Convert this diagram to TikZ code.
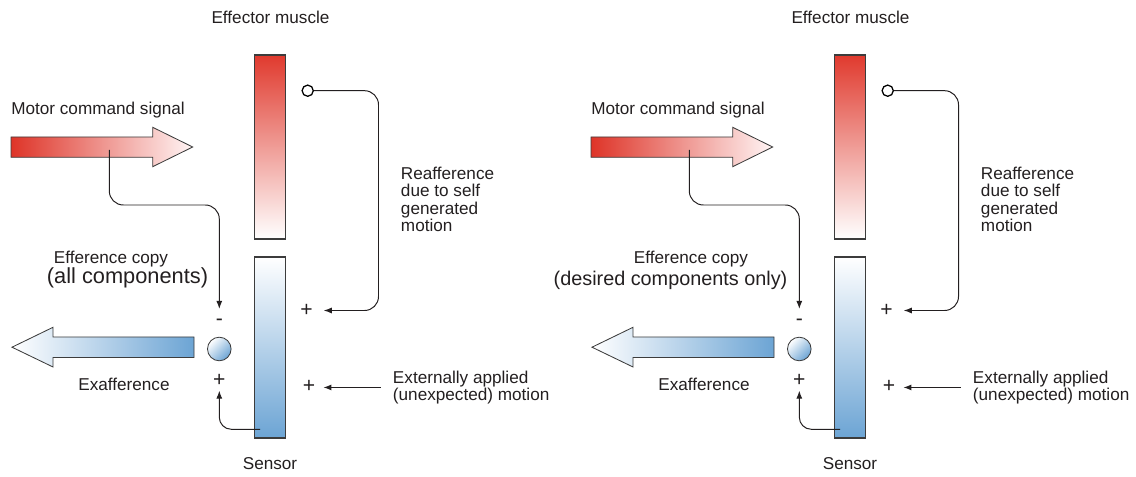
\documentclass[tikz,border=0pt]{standalone}
\usepackage{fontspec}
\setmainfont{Liberation Sans}
\usetikzlibrary{positioning, arrows.meta, calc}
\definecolor{musclered}{RGB}{224,58,46}
\definecolor{cmdred}{RGB}{222,52,40}
\definecolor{sensblue}{RGB}{108,164,212}
\definecolor{edgegray}{RGB}{60,60,60}
\definecolor{inkgray}{RGB}{35,31,32}

\begin{document}
\begin{tikzpicture}[x=0.025cm, y=-0.025cm,
			lbl/.style={font=\fontsize{12.2}{14}\selectfont, text=inkgray, inner sep=0pt},
			sgn/.style={font=\fontsize{15}{17}\selectfont, text=inkgray, inner sep=0pt},
			bar/.style={rectangle, draw=edgegray, line width=0.8pt, minimum width=0.775cm, minimum height=4.6cm, inner sep=0pt},
			bigarrow/.style={draw=edgegray, line width=0.6pt},
			link/.style={->, line width=0.7pt, draw=inkgray, rounded corners=0.35cm},
			>={Latex[length=0.2cm,width=0.15cm]}
			]
			\useasboundingbox (0,0) rectangle (1136,477);
			\foreach \p/\dx/\copytxt/\copysz/\copyx/\copyy in {L/0/{(all components)}/15.5/127.5/284, R/580/{(desired components only)}/14.1/90.5/285.5}{
			\begin{scope}[shift={(\dx,0)}]
			% muscle and sensor
			\node[bar, top color=musclered, bottom color=white] (muscle\p) at (269.8,147) {};
			\node[bar, minimum height=4.525cm, top color=white, bottom color=sensblue] (sensor\p) at (269.8,347.5) {};
			\node[lbl, anchor=base] (musclelbl\p) at (270.5,23.8) {Effector muscle};
			\node[lbl, anchor=base] (sensorlbl\p) at (270,470) {Sensor};
			
			% motor command
			\node[lbl, anchor=base west] (cmdlbl\p) at (11,115) {Motor command signal};
			\shadedraw[bigarrow, left color=cmdred, right color=red!4] (11,137) -- (152.7,137) -- (152.7,127.3) -- (192.7,147) -- (152.7,166.7) -- (152.7,157.3) -- (11,157.3) -- cycle;
			
			% exafference
			\shadedraw[bigarrow, left color=white, right color=sensblue] (194,337) -- (53,337) -- (53,327.3) -- (12,347.2) -- (53,367) -- (53,357.5) -- (194,357.5) -- cycle;
			\node[lbl, anchor=base] (exlbl\p) at (124,390.7) {Exafference};
			
			\node[circle, draw=edgegray, line width=0.6pt, minimum size=0.59cm, inner sep=0pt, top color=white, bottom color=sensblue, shading angle=45] (sum\p) at (219.3,349) {};
			\node[sgn] (minus\p) at (219.3,322.4) {-};
			\node[sgn] (plusex\p) at (219.3,380.3) {+};
			
			\node[lbl, anchor=base] (copylbl\p) at (111,263.5) {Efference copy};
			\node[lbl, font=\fontsize{\copysz}{16}\selectfont, anchor=base] (copysub\p) at (\copyx,\copyy) {\copytxt};
			\coordinate (tap\p) at (109.3,150);
			\draw[link, shorten >=0.25cm] (tap\p) -- (109.3,205) -| (minus\p.north);
			
			\coordinate (sensout\p) at (260,429.3);
			\draw[link, rounded corners=0.3cm, shorten >=0.1cm] (sensout\p) -| (plusex\p.south);
			
			% reafference
			\node[circle, draw=black, line width=0.9pt, fill=white, minimum size=0.28cm, inner sep=0pt] (reafsrc\p) at (307.7,90.7) {};
			\node[sgn] (plusre\p) at (306.5,310.5) {+};
			\node[lbl, align=left, anchor=north west, font=\fontsize{12.2}{12.4}\selectfont] (reaflbl\p) at (400.7,166.5) {Reafference\\due to self\\generated\\motion};
			\draw[link, shorten >=0.27cm] (reafsrc\p.east) -- (378.5,90.7) |- (plusre\p.east);
			
			% external motion
			\node[sgn] (plusext\p) at (309,386.5) {+};
			\node[lbl, align=left, anchor=north west, font=\fontsize{12.2}{10.7}\selectfont] (extlbl\p) at (392.7,370.5) {Externally applied\\(unexpected) motion};
			\draw[link, shorten <=0.3cm, shorten >=0.2cm] (extlbl\p.west) -- (extlbl\p.west -| plusext\p.east);
			\end{scope}
			}
			\end{tikzpicture}
\end{document}
